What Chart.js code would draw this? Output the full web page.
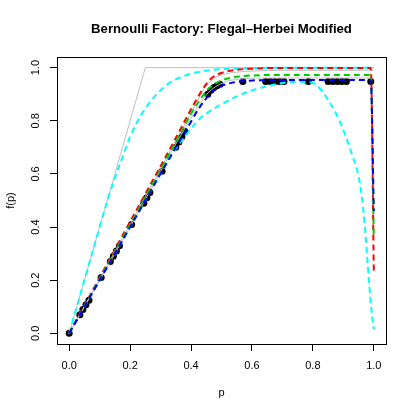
<!DOCTYPE html>
<html>
<head>
<meta charset="utf-8">
<script src="https://cdn.jsdelivr.net/npm/chart.js@4.4.1/dist/chart.umd.min.js"></script>
<style>
  html, body { margin: 0; padding: 0; background: #fff; }
  #wrap { width: 415px; height: 415px; }
</style>
</head>
<body>
<div id="wrap"><canvas id="grafico" width="415" height="415"></canvas></div>
<script>
// ticks on both axes
const tickValues = [0, 0.2, 0.4, 0.6, 0.8, 1.0];

// gray reference line, min(4p, 1)
const grayP = [0, 0.25, 1.0];
const grayF = [0, 1.0, 1.0];

// thin gray curves inside the main bundle
const grayTopP = [0, 0.2, 0.4, 0.44, 0.47, 0.5, 0.55, 0.6, 0.7, 1.0];
const grayTopF = [0, 0.41, 0.83, 0.915, 0.955, 0.972, 0.983, 0.987, 0.99, 0.99];
const grayMidP = [0, 0.2, 0.4, 0.456, 0.505, 0.571, 0.658, 1.0];
const grayMidF = [0, 0.4, 0.81, 0.905, 0.943, 0.958, 0.961, 0.961];

// cyan dashed, upper
const cyanUpP = [0, 0.1, 0.123, 0.15, 0.177, 0.2, 0.232, 0.26, 0.287, 0.32, 0.341, 0.396, 0.451, 0.505, 0.6, 0.7, 1.0];
const cyanUpF = [0, 0.4, 0.49, 0.585, 0.67, 0.74, 0.814, 0.862, 0.9, 0.935, 0.951, 0.976, 0.989, 0.995, 0.998, 1.0, 1.0];

// cyan dashed, lower (falls to 0 at p = 1)
const cyanLowP = [0, 0.2, 0.3, 0.35, 0.4, 0.43, 0.46, 0.5, 0.55, 0.6, 0.65, 0.7, 0.75, 0.8, 0.83, 0.85, 0.875, 0.9, 0.925, 0.95, 0.96, 0.97, 0.978, 0.985, 0.992, 1.0];
const cyanLowF = [0, 0.4, 0.6, 0.695, 0.77, 0.81, 0.835, 0.862, 0.892, 0.914, 0.93, 0.942, 0.947, 0.942, 0.912, 0.878, 0.83, 0.765, 0.685, 0.59, 0.52, 0.41, 0.29, 0.185, 0.09, 0.015];

// red dashed
const redP = [0, 0.2, 0.35, 0.396, 0.418, 0.44, 0.467, 0.505, 0.55, 0.6, 0.7, 0.99, 1.0];
const redF = [0, 0.42, 0.735, 0.835, 0.88, 0.922, 0.96, 0.982, 0.992, 0.996, 0.999, 0.999, 0.23];

// green dashed
const greenP = [0, 0.2, 0.35, 0.4, 0.423, 0.451, 0.484, 0.527, 0.571, 0.65, 0.99, 1.0];
const greenF = [0, 0.41, 0.72, 0.826, 0.868, 0.913, 0.943, 0.961, 0.968, 0.972, 0.972, 0.36];

// blue dashed
const blueP = [0, 0.2, 0.35, 0.38, 0.429, 0.462, 0.494, 0.538, 0.593, 0.65, 0.99, 1.0];
const blueF = [0, 0.4, 0.7, 0.757, 0.852, 0.9, 0.928, 0.944, 0.951, 0.953, 0.953, 0.46];

// black points (estimates)
const puntosP = [0, 0.035, 0.045, 0.055, 0.065, 0.105, 0.135, 0.145, 0.155, 0.165, 0.205,
  0.245, 0.255, 0.265, 0.305, 0.35, 0.36, 0.37, 0.38, 0.455, 0.465, 0.475, 0.485, 0.495,
  0.57, 0.645, 0.66, 0.675, 0.69, 0.705, 0.785, 0.85, 0.865, 0.88, 0.895, 0.91, 0.99];
const puntosF = [0, 0.07, 0.09, 0.108, 0.125, 0.21, 0.27, 0.29, 0.31, 0.33, 0.41,
  0.49, 0.51, 0.53, 0.61, 0.70, 0.72, 0.74, 0.76, 0.90, 0.915, 0.925, 0.932, 0.937,
  0.948, 0.948, 0.948, 0.948, 0.948, 0.948, 0.948, 0.948, 0.948, 0.948, 0.948, 0.948, 0.948];

const fuente = "'Liberation Sans', Arial, Helvetica, sans-serif";

const toXY = (ps, fs) => ps.map((p, i) => ({ x: p, y: fs[i] }));

const linea = (ps, fs, color, ancho, dash, orden, suave = true) => ({
    data: toXY(ps, fs),
    borderColor: color,
    borderWidth: ancho,
    borderDash: dash,
    pointRadius: 0,
    fill: false,
    tension: 0,
    cubicInterpolationMode: suave ? "monotone" : "default",
    order: orden,
});

// draws the R style box, rotated y tick labels and the titles
const estiloR = {
    id: "estiloR",
    afterDraw(chart) {
        const { ctx, chartArea: a, scales } = chart;
        ctx.save();
        ctx.strokeStyle = "#000";
        ctx.lineWidth = 1;
        ctx.strokeRect(a.left + 0.5, a.top + 0.5, a.right - a.left, a.bottom - a.top);

        ctx.fillStyle = "#000";
        ctx.font = "11px " + fuente;
        ctx.textAlign = "center";
        ctx.textBaseline = "middle";
        scales.y.ticks.forEach((t) => {
            const py = scales.y.getPixelForValue(t.value);
            ctx.save();
            ctx.translate(35.5, py);
            ctx.rotate(-Math.PI / 2);
            ctx.fillText(t.value.toFixed(1), 0, 0);
            ctx.restore();
        });

        const cx = (a.left + a.right) / 2;
        const cy = (a.top + a.bottom) / 2;
        ctx.textBaseline = "alphabetic";
        ctx.fillText("p", cx, 396);

        ctx.save();
        ctx.translate(14, cy);
        ctx.rotate(-Math.PI / 2);
        ctx.fillText("f(p)", 0, 0);
        ctx.restore();

        ctx.font = "bold 13.2px " + fuente;
        ctx.fillText("Bernoulli Factory: Flegal\u2013Herbei Modified", cx, 33);
        ctx.restore();
    },
};

const fijarTicks = (scale) => {
    scale.ticks = tickValues.map((v) => ({ value: v }));
};

new Chart(document.getElementById("grafico"), {
    type: "line",
    data: {
        datasets: [
            {
                data: toXY(puntosP, puntosF),
                showLine: false,
                pointRadius: 3.5,
                pointBackgroundColor: "#000",
                pointBorderWidth: 0,
                order: 9,
            },
            linea(grayP, grayF, "#bebebe", 1, [], 8, false),
            linea(grayTopP, grayTopF, "#bebebe", 1, [], 7),
            linea(grayMidP, grayMidF, "#bebebe", 1, [], 6),
            linea(cyanUpP, cyanUpF, "#00ffff", 2, [6, 4], 5),
            linea(cyanLowP, cyanLowF, "#00ffff", 2, [6, 4], 4),
            linea(redP, redF, "#ff0000", 2, [6, 4], 3),
            linea(greenP, greenF, "#00cd00", 2, [6, 4], 2),
            linea(blueP, blueF, "#0000ff", 2, [6, 4], 1),
        ],
    },
    options: {
        responsive: false,
        animation: false,
        events: [],
        layout: { padding: { left: 0, top: 57, right: 29, bottom: 0 } },
        plugins: { legend: { display: false }, title: { display: false }, tooltip: { enabled: false } },
        scales: {
            x: {
                type: "linear",
                min: -0.04,
                max: 1.04,
                afterBuildTicks: fijarTicks,
                afterFit: (s) => { s.height = 71; },
                border: { display: false },
                grid: { drawOnChartArea: false, drawTicks: true, tickLength: 7, color: "#000", lineWidth: 1 },
                ticks: {
                    color: "#000",
                    padding: 8,
                    maxRotation: 0,
                    font: { family: fuente, size: 11 },
                    callback: (v) => v.toFixed(1),
                },
            },
            y: {
                type: "linear",
                min: -0.04,
                max: 1.04,
                afterBuildTicks: fijarTicks,
                afterFit: (s) => { s.width = 57; },
                border: { display: false },
                grid: { drawOnChartArea: false, drawTicks: true, tickLength: 7, color: "#000", lineWidth: 1 },
                ticks: { display: false },
            },
        },
    },
    plugins: [estiloR],
});
</script>
</body>
</html>
